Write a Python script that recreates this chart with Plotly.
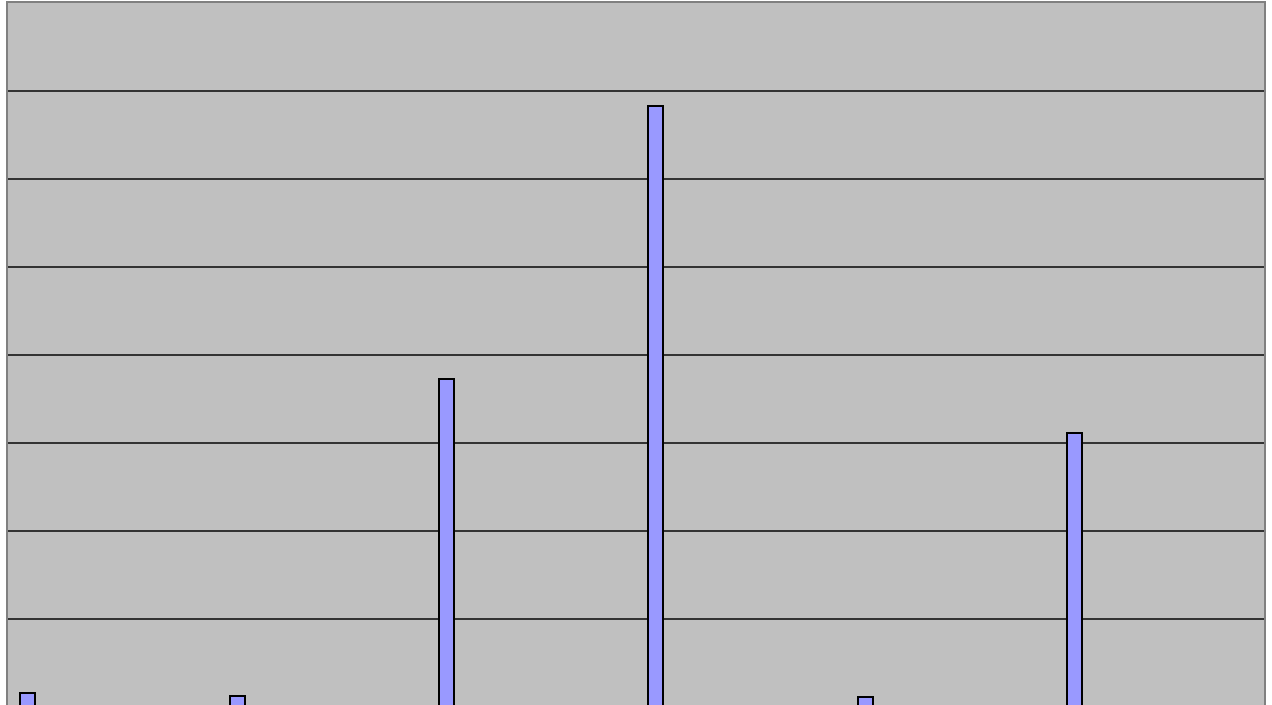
import plotly.graph_objects as go

categories = ["A", "B", "C", "D", "E", "F"]
values = [1.6, 1.25, 37.3, 68.3, 1.14, 31.1]
y_ticks = [0, 10, 20, 30, 40, 50, 60, 70, 80]

fig = go.Figure()
fig.add_trace(go.Bar(
    x=categories,
    y=values,
    width=0.0715,
    offset=-0.441,
    marker=dict(color="#9999FF", line=dict(color="#000000", width=2)),
    hoverinfo="x+y",
))

fig.update_layout(
    width=1272,
    height=705,
    margin=dict(l=8, r=8, t=3, b=0),
    paper_bgcolor="#FFFFFF",
    plot_bgcolor="#C0C0C0",
    showlegend=False,
    bargap=0,
)
fig.update_xaxes(
    type="category",
    side="top",
    showline=True,
    linecolor="#808080",
    linewidth=2,
    mirror=False,
    showgrid=False,
    showticklabels=False,
    ticks="",
    range=[-0.5, 5.5],
)
fig.update_yaxes(
    range=[0.227, 80],
    tickvals=y_ticks,
    showgrid=True,
    gridcolor="#333333",
    gridwidth=2,
    zeroline=False,
    showline=True,
    linecolor="#808080",
    linewidth=2,
    mirror=True,
    showticklabels=False,
    ticks="",
)

fig.write_html(
    "out.html",
    config={"displayModeBar": False},
    post_script="document.body.style.margin='0';document.body.style.overflow='hidden';",
)
